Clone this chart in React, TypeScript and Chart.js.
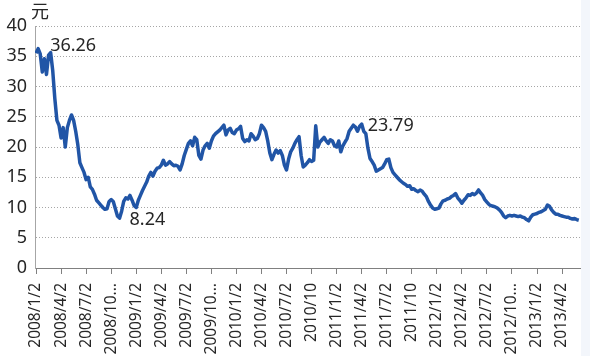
import React, { useEffect, useRef } from "react";
import { Chart, registerables } from "chart.js";

Chart.register(...registerables);

const quarterLabels = [
  "2008/1/2", "2008/4/2", "2008/7/2", "2008/10...",
  "2009/1/2", "2009/4/2", "2009/7/2", "2009/10...",
  "2010/1/2", "2010/4/2", "2010/7/2", "2010/10",
  "2011/1/2", "2011/4/2", "2011/7/2", "2011/10",
  "2012/1/2", "2012/4/2", "2012/7/2", "2012/10...",
  "2013/1/2", "2013/4/2",
];
const pointsPerQuarter = 12;

const prices = [
  35.5, 36.26, 35.4, 32.4, 34.6, 32.0, 35.2, 35.6, 32.6, 28.0, 24.4, 23.6,
  21.5, 23.2, 20.0, 23.2, 24.4, 25.3, 24.4, 22.6, 20.4, 17.4, 16.6, 15.8,
  14.6, 15.0, 13.4, 13.0, 12.2, 11.2, 10.8, 10.4, 10.0, 9.7, 9.8, 11.0,
  11.3, 11.0, 9.8, 8.6, 8.24, 9.4, 11.0, 11.6, 11.4, 12.0, 11.2, 10.3,
  10.0, 11.2, 12.0, 12.8, 13.5, 14.2, 15.2, 15.8, 15.2, 16.0, 16.5, 16.6,
  17.0, 17.8, 17.0, 17.2, 17.6, 17.2, 16.9, 17.0, 16.8, 16.2, 17.2, 18.6,
  19.6, 20.6, 21.0, 20.2, 21.6, 21.2, 18.6, 18.0, 19.5, 20.2, 20.6, 19.8,
  21.0, 21.8, 22.2, 22.5, 22.8, 23.2, 23.6, 22.0, 22.8, 23.1, 22.4, 22.2,
  22.8, 23.0, 23.4, 21.4, 20.9, 21.2, 21.0, 22.2, 21.8, 21.2, 21.4, 22.2,
  23.6, 23.2, 22.6, 21.0, 19.0, 17.9, 18.8, 19.5, 19.0, 19.4, 18.6, 17.0,
  16.2, 18.0, 19.2, 19.8, 20.6, 21.2, 21.7, 18.6, 16.7, 17.0, 17.4, 17.9,
  17.6, 17.8, 23.5, 20.0, 20.8, 21.2, 21.6, 21.0, 20.6, 21.2, 21.0, 20.2,
  20.0, 21.0, 19.2, 20.2, 20.8, 21.4, 22.6, 23.1, 23.6, 23.3, 22.6, 23.4,
  23.79, 22.6, 22.2, 19.8, 18.1, 17.6, 17.0, 16.0, 16.2, 16.4, 16.6, 17.2,
  17.9, 18.0, 16.6, 15.8, 15.4, 15.0, 14.6, 14.3, 14.0, 13.8, 13.5, 13.6,
  13.0, 13.1, 12.8, 12.6, 12.9, 12.7, 12.2, 11.8, 11.0, 10.4, 9.9, 9.7,
  9.8, 9.9, 10.6, 11.1, 11.2, 11.4, 11.5, 11.8, 12.0, 12.3, 11.6, 11.2,
  10.7, 11.2, 11.6, 12.1, 12.0, 12.3, 12.1, 12.4, 12.9, 12.4, 12.0, 11.3,
  10.9, 10.5, 10.3, 10.2, 10.1, 9.9, 9.6, 9.2, 8.6, 8.3, 8.6, 8.7,
  8.6, 8.7, 8.6, 8.5, 8.6, 8.4, 8.3, 8.0, 7.8, 8.4, 8.8, 8.9,
  9.0, 9.2, 9.3, 9.5, 9.7, 10.4, 10.2, 9.6, 9.2, 8.9, 8.9, 8.7,
  8.6, 8.5, 8.4, 8.4, 8.2, 8.1, 8.2, 8.0, 7.9,
];

const yMin = 0;
const yMax = 40;
const yStep = 5;
const unitLabel = "元";
// indices of the labelled points (max, min, local high)
const labelledIndices = [1, 40, 156];
// style: text offsets from each labelled point
const labelOffsets = [
  [12, -3],
  [10, 2],
  [6, 2],
];

export default function App() {
  const canvasRef = useRef<HTMLCanvasElement | null>(null);

  useEffect(() => {
    const canvas = canvasRef.current;
    if (!canvas) return;

    const textPlugin = {
      id: "texts",
      afterDatasetsDraw(chart: any) {
        const { ctx } = chart;
        const xs = chart.scales.x;
        const ys = chart.scales.y;
        ctx.save();
        ctx.fillStyle = "#262626";
        ctx.font = '18px "Noto Sans"';
        ctx.textAlign = "left";
        ctx.textBaseline = "middle";
        labelledIndices.forEach((idx, k) => {
          const px = xs.getPixelForValue(idx);
          const py = ys.getPixelForValue(prices[idx]);
          ctx.fillText(prices[idx].toFixed(2), px + labelOffsets[k][0], py + labelOffsets[k][1]);
        });
        ctx.font = '18px "Noto Sans CJK SC"';
        ctx.textBaseline = "top";
        ctx.fillText(unitLabel, 31, 2);
        ctx.restore();
      },
    };

    const lastIndex = prices.length - 1;

    const chart = new Chart(canvas, {
      type: "line",
      data: {
        datasets: [
          {
            data: prices.map((v, i) => ({ x: i, y: v })),
            borderColor: "#2155A6",
            backgroundColor: "#2155A6",
            borderWidth: 3.5,
            borderJoinStyle: "round",
            pointRadius: 0,
            tension: 0,
            fill: false,
          },
        ],
      },
      options: {
        animation: false,
        responsive: false,
        maintainAspectRatio: false,
        layout: { padding: { top: 26, right: 10, left: 0, bottom: 0 } },
        plugins: {
          legend: { display: false },
          tooltip: { enabled: false },
        },
        scales: {
          x: {
            type: "linear",
            min: -0.5,
            max: lastIndex + 0.6,
            afterBuildTicks: (s: any) => {
              s.ticks = quarterLabels.map((_, k) => ({ value: k * pointsPerQuarter }));
            },
            afterFit: (s: any) => {
              s.height = 88;
            },
            ticks: {
              autoSkip: false,
              minRotation: 90,
              maxRotation: 90,
              padding: 9,
              color: "#262626",
              font: { family: "Noto Sans", size: 15.5 },
              callback: (v: any) => quarterLabels[Math.round(Number(v) / pointsPerQuarter)] ?? "",
            },
            grid: {
              drawOnChartArea: false,
              drawTicks: true,
              tickLength: 6,
              tickColor: "#808080",
              color: "#808080",
            },
            border: { color: "#808080", width: 1 },
          },
          y: {
            min: yMin,
            max: yMax,
            afterFit: (s: any) => {
              s.width = 35;
            },
            ticks: {
              stepSize: yStep,
              padding: 8,
              color: "#262626",
              font: { family: "Noto Sans", size: 18 },
            },
            grid: {
              drawTicks: false,
              color: "#A6A6A6",
              lineWidth: 1,
            },
            border: { color: "#A6A6A6", width: 1, dash: [1, 2] },
          },
        },
      },
      plugins: [textPlugin],
    } as any);

    return () => chart.destroy();
  }, []);

  return (
    <div
      style={{
        position: "fixed",
        left: 0,
        top: 0,
        width: 590,
        height: 356,
        background: "#ffffff",
      }}
    >
      <canvas ref={canvasRef} width={590} height={356} style={{ display: "block" }} />
      <div
        style={{
          position: "absolute",
          left: 581,
          top: 0,
          width: 9,
          height: 356,
          background: "#F3F6FB",
        }}
      />
    </div>
  );
}
